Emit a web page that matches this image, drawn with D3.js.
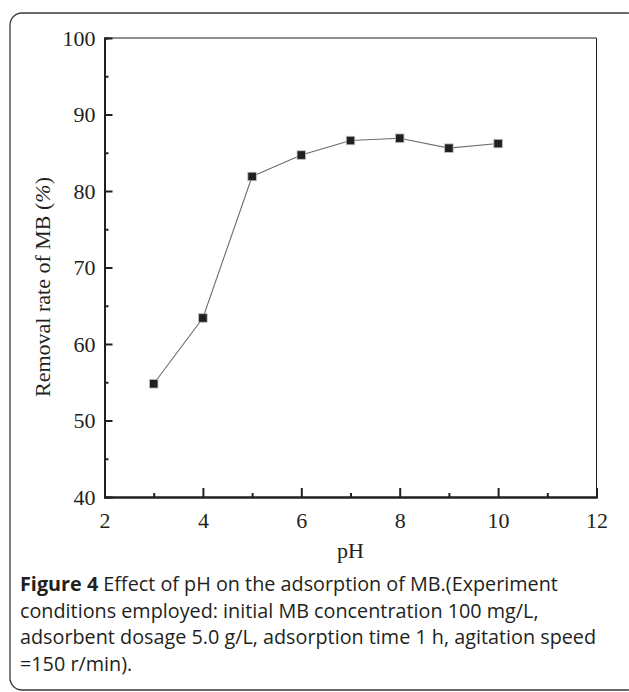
<!DOCTYPE html>
<html>
<head>
<meta charset="utf-8">
<script src="https://cdn.jsdelivr.net/npm/d3@7"></script>
<style>
  body { margin: 0; background: #fff; }
  .tick text { font-family: "Liberation Serif", "Times New Roman", serif; }
</style>
</head>
<body>
<div id="chart"></div>
<script>
// data
const phValues = [3, 4, 5, 6, 7, 8, 9, 10]
const removalRate = [54.8, 63.4, 81.9, 84.7, 86.6, 86.9, 85.6, 86.2]
const xTicks = [2, 4, 6, 8, 10, 12]
const xMinorTicks = [3, 5, 7, 9, 11]
const yTicks = [40, 50, 60, 70, 80, 90, 100]
const yMinorTicks = [45, 55, 65, 75, 85, 95]
const xLabel = 'pH'
const yLabel = 'Removal rate of MB ('
const captionLines = [
  ['Figure 4', ' Effect of pH on the adsorption of MB.(Experiment'],
  ['', 'conditions employed: initial MB concentration 100 mg/L,'],
  ['', 'adsorbent dosage 5.0 g/L, adsorption time 1 h, agitation speed'],
  ['', '=150 r/min).']
]

const width = 629
const height = 692
const plot = { left: 104.5, right: 596.5, top: 38, bottom: 497 }
const ink = '#231f20'

const svg = d3.select('#chart').append('svg')
  .attr('width', width)
  .attr('height', height)

// rounded frame, right edge runs off the page
svg.append('rect')
  .attr('x', 10).attr('y', 13)
  .attr('width', 630).attr('height', 677)
  .attr('rx', 12).attr('ry', 12)
  .attr('fill', 'none')
  .attr('stroke', '#3a3a3a')
  .attr('stroke-width', 1.3)

const xScale = d3.scaleLinear().domain([2, 12]).range([plot.left, plot.right])
const yScale = d3.scaleLinear().domain([40, 100]).range([plot.bottom, plot.top])

// thin top / right box lines
svg.append('line')
  .attr('x1', plot.left).attr('x2', plot.right)
  .attr('y1', plot.top).attr('y2', plot.top)
  .attr('stroke', ink).attr('stroke-width', 1)
svg.append('line')
  .attr('x1', plot.right).attr('x2', plot.right)
  .attr('y1', plot.top).attr('y2', plot.bottom)
  .attr('stroke', ink).attr('stroke-width', 1)

function styleAxis(g) {
  g.select('.domain').attr('stroke', ink).attr('stroke-width', 2)
  g.selectAll('.tick line').attr('stroke', ink).attr('stroke-width', 2)
  g.selectAll('.tick text').attr('fill', ink).attr('font-size', 22)
}

// minor ticks first, majors drawn over
svg.append('g')
  .attr('transform', `translate(0,${plot.bottom})`)
  .call(d3.axisBottom(xScale).tickValues(xMinorTicks).tickSize(-4).tickFormat(''))
  .call(styleAxis)
svg.append('g')
  .attr('transform', `translate(${plot.left},0)`)
  .call(d3.axisLeft(yScale).tickValues(yMinorTicks).tickSize(-4).tickFormat(''))
  .call(styleAxis)

svg.append('g')
  .attr('transform', `translate(0,${plot.bottom})`)
  .call(d3.axisBottom(xScale).tickValues(xTicks).tickSizeInner(-9).tickSizeOuter(0).tickPadding(15))
  .call(styleAxis)

svg.append('g')
  .attr('transform', `translate(${plot.left},0)`)
  .call(d3.axisLeft(yScale).tickValues(yTicks).tickSizeInner(-8).tickSizeOuter(0).tickPadding(9))
  .call(styleAxis)

// axis titles
svg.append('text')
  .attr('x', (plot.left + plot.right) / 2)
  .attr('y', 558)
  .attr('text-anchor', 'middle')
  .attr('font-family', '"Liberation Serif", serif')
  .attr('font-size', 22)
  .attr('fill', ink)
  .text(xLabel)

const yl = svg.append('text')
  .attr('transform', 'translate(50,287) rotate(-90)')
  .attr('text-anchor', 'middle')
  .attr('font-family', '"Liberation Serif", serif')
  .attr('font-size', 22)
  .attr('fill', ink)
yl.append('tspan').text(yLabel)
yl.append('tspan').attr('font-style', 'italic').text('%')
yl.append('tspan').text(')')

// series
const pts = phValues.map((x, i) => ({ x: x, y: removalRate[i] }))

svg.append('path')
  .datum(pts)
  .attr('d', d3.line().x(d => xScale(d.x)).y(d => yScale(d.y)))
  .attr('fill', 'none')
  .attr('stroke', '#6d6d6d')
  .attr('stroke-width', 1.1)

const sq = 8.5
svg.append('g')
  .selectAll('rect')
  .data(pts)
  .join('rect')
  .attr('x', d => xScale(d.x) - sq / 2)
  .attr('y', d => yScale(d.y) - sq / 2)
  .attr('width', sq)
  .attr('height', sq)
  .attr('fill', ink)
  .attr('stroke', '#bdbdbd')
  .attr('stroke-width', 0.8)

// caption
const cap = svg.append('g')
  .attr('font-family', '"Open Sans", sans-serif')
  .attr('font-size', 19.8)
  .attr('fill', ink)
captionLines.forEach((ln, i) => {
  const t = cap.append('text').attr('x', 20).attr('y', 591 + i * 26.7)
  if (ln[0]) t.append('tspan').attr('font-weight', 'bold').text(ln[0])
  t.append('tspan').text(ln[1])
})
</script>
</body>
</html>
